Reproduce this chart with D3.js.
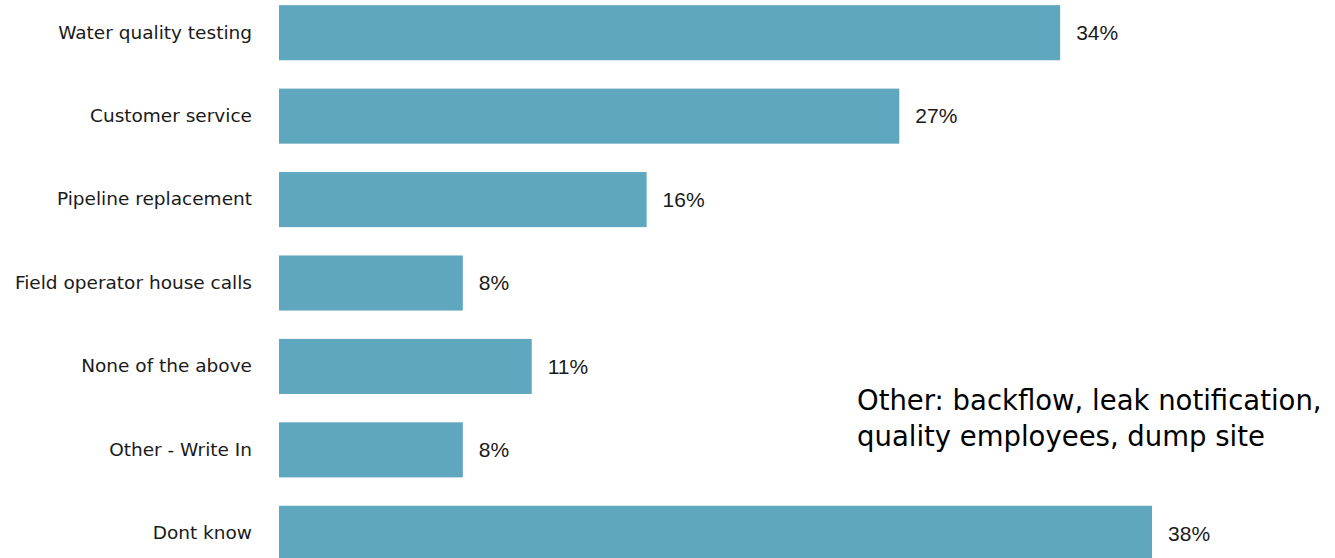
<!DOCTYPE html>
<html>
<head>
<meta charset="utf-8">
<script src="https://cdn.jsdelivr.net/npm/d3@7"></script>
<style>
  html, body { margin: 0; padding: 0; background: #ffffff; }
  svg { display: block; }
</style>
</head>
<body>
<div id="chart"></div>
<script>
// Survey responses: which utility services respondents recall
const categories = [
  "Water quality testing",
  "Customer service",
  "Pipeline replacement",
  "Field operator house calls",
  "None of the above",
  "Other - Write In",
  "Dont know"
];
const values = [34, 27, 16, 8, 11, 8, 38];
const noteLines = [
  "Other: backflow, leak notification,",
  "quality employees, dump site"
];

const width = 1335, height = 558;
const barColor = "#5fa6bf";

const svg = d3.select("#chart").append("svg")
  .attr("width", width)
  .attr("height", height);

const x = d3.scaleLinear().domain([0, 40]).range([279, 1198]);
const y = d3.scaleBand()
  .domain(categories)
  .range([-9, 575])
  .paddingInner(0.34)
  .paddingOuter(0.17);

const rows = categories.map((c, i) => ({ label: c, value: values[i] }));

// bars
svg.append("g").selectAll("rect")
  .data(rows)
  .join("rect")
  .attr("x", x(0))
  .attr("y", d => y(d.label))
  .attr("width", d => x(d.value) - x(0))
  .attr("height", y.bandwidth())
  .attr("fill", barColor);

// category labels on the left
const yAxis = d3.axisLeft(y).tickSize(0).tickPadding(27);
const gy = svg.append("g")
  .attr("transform", `translate(${x(0)},0)`)
  .call(yAxis);
gy.select(".domain").remove();
gy.selectAll("text")
  .attr("fill", "#1a1a1a")
  .style("font-family", "'DejaVu Sans', sans-serif")
  .style("font-size", "18.5px");

// value labels at the bar ends
svg.append("g").selectAll("text")
  .data(rows)
  .join("text")
  .attr("x", d => x(d.value) + 16)
  .attr("y", d => y(d.label) + y.bandwidth() / 2)
  .attr("dy", "0.35em")
  .attr("fill", "#1a1a1a")
  .style("font-family", "'Liberation Sans', Arial, sans-serif")
  .style("font-size", "21px")
  .text(d => d.value + "%");

// note on the "Other" write-ins
svg.append("text")
  .attr("x", 857)
  .attr("y", 410)
  .attr("fill", "#000000")
  .style("font-family", "'DejaVu Sans', sans-serif")
  .style("font-size", "27.5px")
  .selectAll("tspan")
  .data(noteLines)
  .join("tspan")
  .attr("x", 857)
  .attr("dy", (d, i) => i === 0 ? 0 : 36)
  .text(d => d);
</script>
</body>
</html>
